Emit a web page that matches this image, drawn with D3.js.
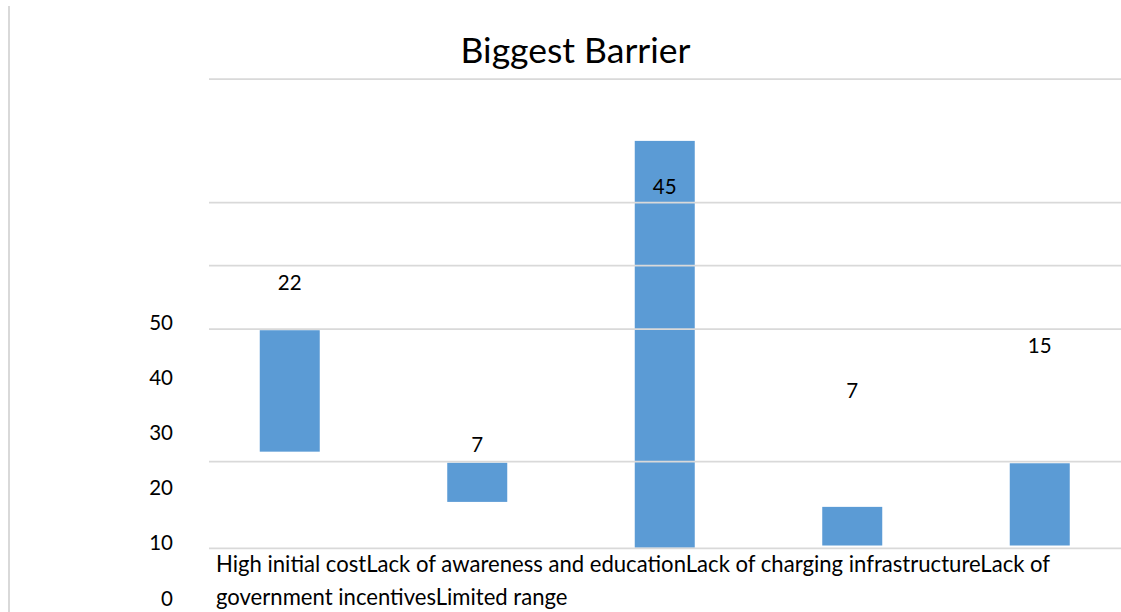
<!DOCTYPE html>
<html>
<head>
<meta charset="utf-8">
<script src="https://cdn.jsdelivr.net/npm/d3@7"></script>
<style>
  html, body { margin: 0; padding: 0; background: #ffffff; }
  svg { display: block; }
</style>
</head>
<body>
<div id="chart"></div>
<script>
// ---- data ----
const title = "Biggest Barrier";
const categories = ["High initial cost", "Lack of awareness and education", "Lack of charging infrastructure", "Lack of government incentives", "Limited range"];
const values = [22, 7, 45, 7, 15];
// floating bar extents, in axis units, as drawn in the reference
const barLow  = [26.6, 17.5, 9.2, 9.6, 9.6];
const barHigh = [48.6, 24.6, 82.9, 16.6, 24.5];
// where each data label sits, in axis units
const labelAt = [57.1, 27.8, 74.6, 37.7, 45.7];
// y tick labels
const yTicks = [0, 10, 20, 30, 40, 50];
// horizontal gridlines, in axis units
const gridAt = [94.1, 71.7, 60.3, 48.8, 24.8, 9.1];

// ---- layout ----
const W = 1121, H = 612;
const font = "Lato, 'Open Sans', 'DejaVu Sans', sans-serif";

const svg = d3.select("#chart").append("svg")
  .attr("width", W).attr("height", H);

const y = d3.scaleLinear().domain([0, 50]).range([598.5, 322.5]);
const x = d3.scaleBand().domain(categories)
  .range([196, 1133.5]).paddingInner(0.68).paddingOuter(0.34);

// left border line
svg.append("line")
  .attr("x1", 9).attr("x2", 9).attr("y1", 6).attr("y2", H)
  .attr("stroke", "#d9d9d9").attr("stroke-width", 2);

// title
svg.append("text")
  .attr("x", 575.5).attr("y", 63)
  .attr("text-anchor", "middle")
  .attr("font-family", font).attr("font-size", 35.5)
  .attr("fill", "#000")
  .text(title);

// bars
svg.append("g").selectAll("rect")
  .data(categories)
  .join("rect")
  .attr("x", d => x(d))
  .attr("width", x.bandwidth())
  .attr("y", (d, i) => y(barHigh[i]))
  .attr("height", (d, i) => y(barLow[i]) - y(barHigh[i]))
  .attr("fill", "#5b9bd5");

// gridlines (drawn over bars as in the reference)
svg.append("g").selectAll("line")
  .data(gridAt)
  .join("line")
  .attr("x1", 209).attr("x2", W)
  .attr("y1", d => y(d)).attr("y2", d => y(d))
  .attr("stroke", "#d9d9d9").attr("stroke-width", 1.75);

// y axis tick labels
const yAxis = d3.axisLeft(y).tickValues(yTicks).tickSize(0).tickPadding(0);
const ga = svg.append("g").attr("transform", "translate(173,0)").call(yAxis);
ga.select(".domain").remove();
ga.selectAll("text")
  .attr("font-family", font).attr("font-size", 20.5)
  .attr("fill", "#000");

// data labels
svg.append("g").selectAll("text")
  .data(values)
  .join("text")
  .attr("x", (d, i) => x(categories[i]) + x.bandwidth() / 2)
  .attr("y", (d, i) => y(labelAt[i]))
  .attr("dy", "0.35em")
  .attr("text-anchor", "middle")
  .attr("font-family", font).attr("font-size", 20.5)
  .attr("fill", "#000")
  .text(d => d);

// category labels: concatenated and wrapped, as in the reference
const catSize = 22.1;
const catText = svg.append("text")
  .attr("font-family", font).attr("font-size", catSize)
  .attr("fill", "#000");
const joined = categories.join("");
const words = joined.split(" ");
const maxW = 880;
let lines = [], cur = "";
const probe = svg.append("text").attr("font-family", font).attr("font-size", catSize);
words.forEach(w => {
  const t = cur ? cur + " " + w : w;
  probe.text(t);
  if (probe.node().getComputedTextLength() > maxW && cur) { lines.push(cur); cur = w; }
  else cur = t;
});
if (cur) lines.push(cur);
probe.remove();
lines.forEach((l, i) => {
  catText.append("tspan").attr("x", 216).attr("y", 572 + i * 32.5).text(l);
});
</script>
</body>
</html>
